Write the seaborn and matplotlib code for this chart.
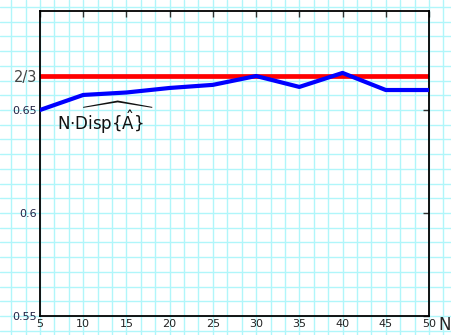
import numpy as np
import pandas as pd
import matplotlib
matplotlib.use("Agg")
import matplotlib.pyplot as plt
import seaborn as sns

N_values = [5, 10, 15, 20, 25, 30, 35, 40, 45, 50]
disp_values = [0.650, 0.6573, 0.6585, 0.6607, 0.6622, 0.6665, 0.6612, 0.6680, 0.6597, 0.6597]
reference_value = 2 / 3
x_ticks = [5, 10, 15, 20, 25, 30, 35, 40, 45, 50]
y_ticks = [0.55, 0.6, 0.65]
y_tick_labels = ["0.55", "0.6", "0.65"]

sns.set_style("white")
plt.rcParams['font.family'] = ['DejaVu Sans']

fig = plt.figure(figsize=(4.52, 3.35), dpi=100)
fig.patch.set_facecolor("white")

l, b, w, h = 40 / 452, 1 - 316 / 335, 389 / 452, 305 / 335
xlo, xhi = 5, 50
ylo, yhi = 0.55, 0.55 + 305 / 2060

# background graph paper
bg = fig.add_axes([0, 0, 1, 1], zorder=0)
bxlo = xlo - l * (xhi - xlo) / w
bxhi = xlo + (1 - l) * (xhi - xlo) / w
bylo = ylo - b * (yhi - ylo) / h
byhi = ylo + (1 - b) * (yhi - ylo) / h
bg.set_xlim(bxlo, bxhi)
bg.set_ylim(bylo, byhi)
dx = 5 / 3
dy = 0.05 / 7
for k in range(-10, 40):
    bg.axvline(xlo + k * dx, color="#b0f6fa", lw=1.0)
for k in range(-10, 40):
    bg.axhline(ylo + k * dy, color="#b0f6fa", lw=1.0)
bg.set_axis_off()

ax = fig.add_axes([l, b, w, h], zorder=1)
ax.patch.set_alpha(0)
df = pd.DataFrame({"N": N_values, "D": disp_values})
ax.axhline(reference_value, color="#ff0000", lw=3.4, zorder=2)
sns.lineplot(data=df, x="N", y="D", ax=ax, color="#0000ff", lw=3.0, zorder=3)
ax.set_xlim(xlo, xhi)
ax.set_ylim(ylo, yhi)
ax.set_xticks(x_ticks)
ax.set_xticklabels([str(t) for t in x_ticks], fontsize=8, color="#222222")
ax.set_yticks(y_ticks + [reference_value])
ax.set_yticklabels(y_tick_labels + ["2/3"], fontsize=8)
ax.tick_params(direction="in", length=4, width=1, top=True, right=True, pad=2,
               colors="#333333", labelcolor="#222222")
ylabs = ax.get_yticklabels()
for lab in ylabs[:-1]:
    lab.set_color("#222244")
ylabs[-1].set_fontsize(10.5)
ylabs[-1].set_color("#444444")
for s in ax.spines.values():
    s.set_color("black")
    s.set_linewidth(1.3)
ax.set_xlabel("")
ax.set_ylabel("")
ax.text(1.025, -0.03, "N", transform=ax.transAxes, fontsize=12, ha="left", va="center")
ax.text(12.6, 0.6462, r"$\mathregular{N{\cdot}}\widehat{\mathregular{Disp\{\hat{A}\}}}$",
        fontsize=12, ha="center", va="center", color="#111111")

fig.savefig("out.png", dpi=100)
